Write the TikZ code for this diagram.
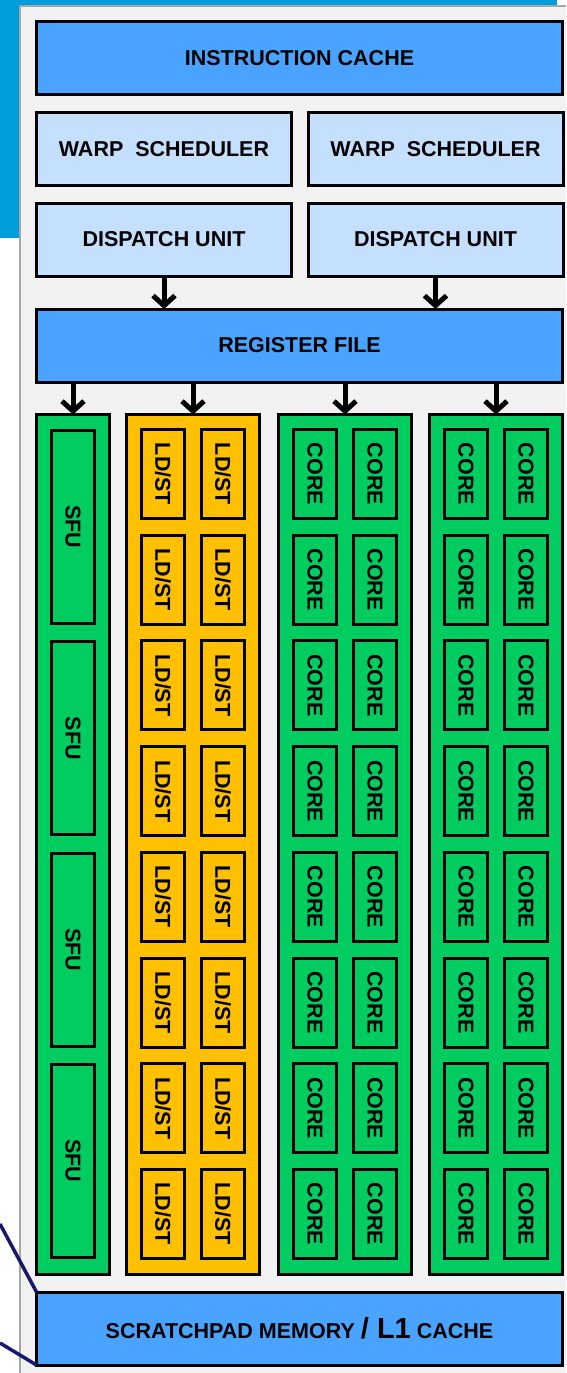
\documentclass[tikz,border=0pt]{standalone}
\usepackage{fontspec}
\setmainfont{Liberation Sans}
\usepackage{xcolor}
\usetikzlibrary{positioning, arrows.meta}
\definecolor{slideblue}{HTML}{009FDB}
\definecolor{panelgray}{HTML}{F2F2F2}
\definecolor{paneledge}{HTML}{A6A6A6}
\definecolor{cacheblue}{HTML}{4AA3FF}
\definecolor{schedblue}{HTML}{C5E0FF}
\definecolor{unitgreen}{HTML}{00CC5F}
\definecolor{ldstyellow}{HTML}{FFC000}
\definecolor{linknavy}{HTML}{17186B}

\begin{document}
\begin{tikzpicture}[x=1pt, y=-1pt,
    blk/.style={draw=black, line width=3pt, inner sep=0pt, outer sep=0pt,
      font=\fontsize{21.5}{25}\selectfont\bfseries},
    widebox/.style={blk, fill=cacheblue, minimum width=526, minimum height=73},
    halfbox/.style={blk, fill=schedblue, minimum width=255, minimum height=73},
    narrowcol/.style={blk, fill=unitgreen, minimum width=73, minimum height=860},
    widecol/.style={blk, minimum width=133, minimum height=860},
    sfubox/.style={blk, fill=unitgreen, rotate=-90, minimum width=193, minimum height=43},
    unitbox/.style={blk, rotate=-90, minimum width=89, minimum height=43},
    feed/.style={-{Straight Barb[length=10pt, width=22pt, line width=5pt]},
      line width=5pt},
    navylink/.style={draw=linknavy, line width=3.5pt}]
  \useasboundingbox (0,0) rectangle (566,1373);

  % slide background and panel
  \fill[slideblue] (0,0) rectangle (557,238);
  \fill[panelgray] (20,6) rectangle (566,1373);
  \draw[paneledge, line width=2pt] (20,1373) -- (20,6) -- (566,6);

  % front end
  \node[widebox] (icache) at (299.5,58) {INSTRUCTION CACHE};
  \node[halfbox] (warp-l) at (164,149) {WARP\ \ SCHEDULER};
  \node[halfbox] (warp-r) at (435.5,149) {WARP\ \ SCHEDULER};
  \node[halfbox] (disp-l) at (164,239.5) {DISPATCH UNIT};
  \node[halfbox] (disp-r) at (435.5,239.5) {DISPATCH UNIT};
  \node[widebox] (regfile) at (299.5,345.5) {REGISTER FILE};

  \draw[feed] (disp-l) -- (regfile.north -| disp-l);
  \draw[feed] (disp-r) -- (regfile.north -| disp-r);

  % execution columns
  \node[narrowcol] (col-sfu) at (73,844.5) {};
  \node[widecol, fill=ldstyellow] (col-ldst) at (193,844.5) {};
  \node[widecol, fill=unitgreen] (col-core-a) at (345,844.5) {};
  \node[widecol, fill=unitgreen] (col-core-b) at (496,844.5) {};

  \foreach \col in {col-sfu, col-ldst, col-core-a, col-core-b}
    \draw[feed] (regfile.south -| \col) -- (\col.north);

  \foreach \k in {1,...,4}
    \node[sfubox] (sfu-\k) at (73,{527+211.3*(\k-1)}) {SFU};

  \foreach \r in {1,...,8} {
    \foreach \c/\x in {1/163, 2/223}
      \node[unitbox, fill=ldstyellow] (ldst-\r-\c) at (\x,{474+105.7*(\r-1)}) {LD/ST};
    \foreach \x [count=\c] in {315, 375, 466, 526}
      \node[unitbox, fill=unitgreen] (core-\r-\c) at (\x,{474+105.7*(\r-1)}) {CORE};
  }

  % shared memory
  \node[widebox] (scratch) at (299.5,1328.5)
    {SCRATCHPAD MEMORY {\fontsize{29}{30}\selectfont/ L1} CACHE};

  \coordinate (zoom-a) at (0,1224);
  \coordinate (zoom-b) at (0,1343);
  \draw[navylink] (zoom-a) -- (scratch.north west);
  \draw[navylink] (zoom-b) -- (scratch.south west);
\end{tikzpicture}
\end{document}
